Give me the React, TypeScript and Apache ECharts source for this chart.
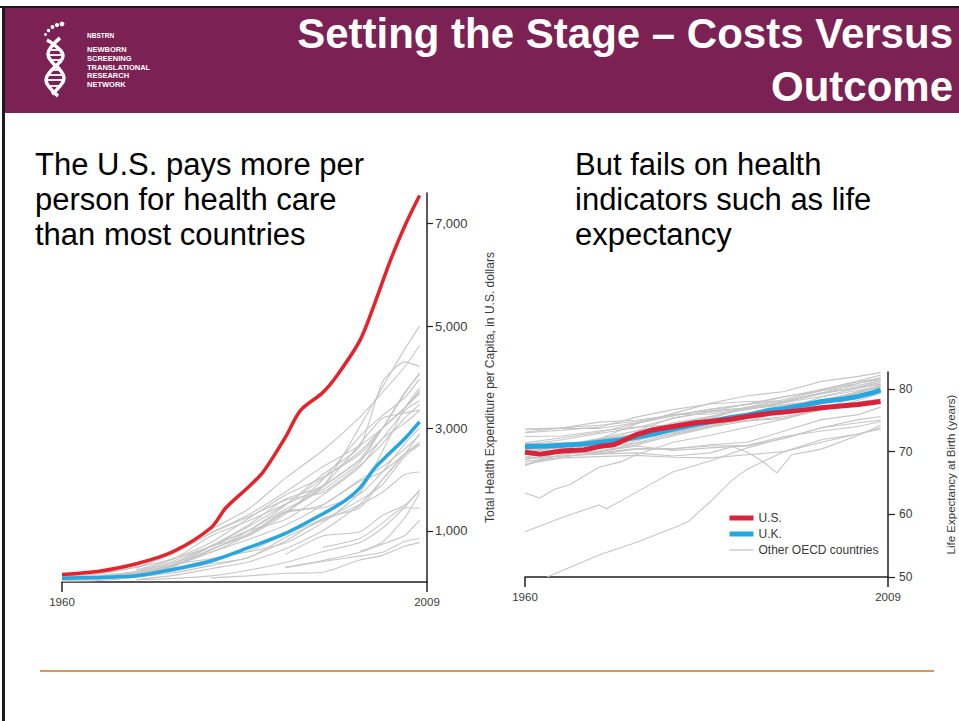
import React, { useEffect, useRef } from "react";
import * as echarts from "echarts";

// ---------- Data: health expenditure per capita (US$) ----------
const EXP_YEARS = [1960, 1965, 1970, 1975, 1980, 1985, 1990, 1995, 2000, 2003, 2006, 2008];

const US_EXP: [number, number][] = [
  [1960, 147], [1965, 211], [1970, 356], [1975, 600], [1980, 1060], [1982, 1450],
  [1985, 1850], [1987, 2150], [1990, 2830], [1992, 3350], [1995, 3700], [1997, 4050],
  [2000, 4720], [2002, 5450], [2004, 6250], [2006, 6950], [2008, 7550],
];

const UK_EXP: [number, number][] = [
  [1960, 75], [1965, 90], [1970, 120], [1975, 250], [1980, 410], [1985, 670],
  [1990, 950], [1995, 1330], [1998, 1590], [2000, 1840], [2002, 2230], [2004, 2520],
  [2006, 2800], [2008, 3130],
];

const OTHER_EXP: (number | null)[][] = [
  [50, 80, 130, 300, 630, 950, 1370, 1860, 3040, 3800, 4550, 5000],
  [130, 200, 350, 590, 1030, 1420, 2030, 2570, 3220, 3700, 4200, 4620],
  [null, null, 150, 330, 620, 1000, 1500, 2100, 2650, 3900, 4300, 4210],
  [70, 110, 200, 410, 710, 1000, 1420, 1800, 2340, 3000, 3700, 4060],
  [110, 170, 290, 460, 770, 1240, 1700, 2040, 2500, 3000, 3680, 4080],
  [65, 95, 160, 350, 690, 900, 1330, 2000, 2850, 3250, 3600, 3970],
  [40, 60, 100, 230, 450, 590, 760, 1160, 1750, 2550, 3400, 3790],
  [null, null, 270, 560, 960, 1310, 1760, 2250, 2670, 3000, 3400, 3740],
  [75, 120, 200, 380, 700, 1080, 1520, 2020, 2550, 3000, 3400, 3700],
  [55, 85, 150, 320, 640, 920, 1360, 1870, 2400, 3000, 3400, 3680],
  [null, null, 240, 450, 900, 1190, 1520, 1860, 2380, 2800, 3350, 3540],
  [95, 160, 300, 560, 950, 1270, 1600, 1750, 2280, 2700, 3200, 3470],
  [50, 80, 150, 320, 700, 1110, 1620, 1880, 2700, 3200, 3300, 3360],
  [90, 130, 210, 460, 690, 1000, 1220, 1700, 2250, 2800, 3100, 3350],
  [55, 90, 160, 330, 580, 920, 1380, 1450, 1720, 2150, 2700, 3010],
  [15, 30, 95, 210, 360, 470, 870, 1200, 1520, 2000, 2500, 2900],
  [null, null, null, null, null, null, 1360, 1510, 2000, 2250, 2600, 2870],
  [25, 55, 150, 320, 580, 830, 1110, 1500, 1970, 2150, 2500, 2730],
  [90, 120, 180, 340, 460, 600, 940, 1220, 1600, 1900, 2450, 2680],
  [null, null, 100, 180, 320, 480, 800, 1240, 1450, 2000, 2500, 2690],
  [null, null, 50, 130, 260, 390, 650, 1000, 1500, 1750, 2100, 2150],
  [null, null, null, null, null, null, 540, 900, 980, 1300, 1500, 1780],
  [null, null, 40, 70, 120, 230, 380, 590, 770, 1050, 1460, 1800],
  [null, null, null, null, null, null, null, 680, 850, 1150, 1450, 1440],
  [null, null, null, null, null, null, 290, 420, 580, 740, 910, 1210],
  [null, null, null, null, null, null, null, null, 600, 780, 1250, 1740],
  [null, null, null, null, null, null, 280, 400, 510, 580, 790, 850],
  [null, null, null, null, 80, 120, 170, 190, 430, 520, 700, 770],
];

// ---------- Data: life expectancy at birth (years) ----------
const LE_YEARS = [1960, 1965, 1970, 1975, 1980, 1985, 1990, 1995, 2000, 2005, 2008];

const US_LE: [number, number][] = [
  [1960, 69.9], [1962, 69.6], [1965, 70.1], [1968, 70.3], [1970, 70.8], [1972, 71.1],
  [1975, 72.7], [1977, 73.4], [1980, 74.0], [1983, 74.6], [1985, 74.8], [1988, 75.2],
  [1990, 75.6], [1993, 76.1], [1995, 76.3], [1998, 76.7], [2000, 77.0], [2003, 77.3],
  [2005, 77.5], [2008, 78.0],
];

const UK_LE: [number, number][] = [
  [1960, 70.8], [1963, 70.9], [1965, 71.0], [1968, 71.2], [1970, 71.5], [1973, 71.9],
  [1975, 72.3], [1978, 73.0], [1980, 73.6], [1983, 74.3], [1985, 74.8], [1988, 75.5],
  [1990, 75.8], [1993, 76.6], [1995, 76.9], [1998, 77.5], [2000, 78.0], [2003, 78.4],
  [2005, 78.8], [2007, 79.4], [2008, 79.8],
];

const OTHER_LE: number[][] = [
  [67.8, 70.2, 72.0, 74.4, 76.1, 77.7, 78.9, 79.6, 81.2, 82.0, 82.6],
  [73.1, 73.8, 74.7, 75.0, 75.8, 76.7, 77.6, 78.8, 79.7, 80.6, 81.3],
  [73.6, 73.8, 74.2, 74.8, 75.9, 76.0, 76.7, 77.8, 78.8, 80.1, 80.8],
  [73.5, 73.7, 73.7, 74.6, 75.9, 76.5, 77.0, 77.5, 78.2, 79.4, 80.3],
  [73.0, 73.4, 73.9, 75.5, 76.7, 77.6, 78.0, 78.1, 79.7, 81.2, 81.6],
  [71.4, 72.2, 73.1, 74.5, 75.7, 76.8, 77.5, 78.7, 79.9, 81.3, 82.2],
  [72.4, 72.5, 73.3, 73.9, 74.3, 74.6, 74.9, 75.3, 76.9, 77.9, 78.4],
  [70.9, 71.0, 71.0, 72.9, 74.6, 75.6, 77.0, 77.9, 79.3, 80.9, 81.5],
  [71.1, 71.9, 72.9, 73.8, 75.3, 76.4, 77.6, 78.0, 79.3, 80.2, 80.7],
  [71.3, 71.4, 71.5, 72.4, 73.1, 74.1, 75.4, 76.7, 78.7, 79.8, 80.4],
  [70.3, 71.0, 71.8, 72.9, 74.3, 75.3, 77.0, 77.9, 79.2, 80.3, 81.0],
  [69.8, 70.9, 72.0, 72.7, 74.0, 75.5, 77.1, 78.3, 79.9, 80.9, 81.8],
  [69.1, 70.3, 70.6, 71.4, 72.9, 74.3, 75.3, 76.6, 78.0, 79.4, 80.2],
  [70.3, 70.7, 71.1, 72.1, 73.2, 74.5, 76.1, 76.8, 77.8, 79.1, 79.8],
  [68.7, 69.9, 70.1, 71.0, 72.7, 73.9, 75.8, 76.8, 78.2, 79.5, 80.5],
  [69.0, 69.3, 70.8, 71.7, 73.4, 74.4, 74.9, 76.3, 77.6, 78.9, 79.6],
  [69.8, 70.9, 71.2, 71.9, 72.9, 73.9, 74.9, 75.6, 76.6, 79.0, 79.9],
  [69.8, 70.8, 72.0, 73.3, 75.4, 76.3, 76.9, 77.9, 79.4, 80.3, 81.3],
  [69.9, 71.0, 72.1, 73.3, 74.4, 75.6, 76.8, 77.4, 78.0, 79.2, 79.8],
  [68.4, 69.1, 70.0, 71.3, 72.5, 73.9, 75.4, 76.7, 78.0, 79.6, 80.6],
  [70.6, 70.4, 69.6, 70.4, 70.4, 71.1, 71.5, 73.3, 75.1, 75.9, 77.1],
  [70.6, 70.6, 69.8, 70.5, 70.5, 70.9, 71.0, 72.4, 73.3, 74.0, 74.8],
  [67.8, 69.6, 70.0, 70.9, 70.2, 70.6, 70.9, 72.1, 73.8, 75.1, 75.6],
  [68.0, 69.0, 69.2, 69.4, 69.1, 69.0, 69.5, 70.0, 71.9, 72.8, 73.8],
];

const OTHER_LE_IRREGULAR: [number, number][][] = [
  [[1960, 63.4], [1962, 62.6], [1964, 64.0], [1966, 64.7], [1970, 67.5], [1973, 68.4],
   [1975, 69.5], [1980, 71.5], [1985, 72.6], [1990, 73.9], [1995, 75.2], [2000, 76.7],
   [2005, 78.2], [2008, 79.3]],
  [[1960, 57.2], [1965, 59.5], [1970, 61.5], [1971, 60.9], [1975, 63.5], [1980, 66.8],
   [1985, 68.5], [1990, 70.6], [1995, 72.2], [2000, 73.8], [2005, 74.6], [2008, 75.0]],
  [[1963, 50.0], [1970, 53.5], [1975, 55.5], [1980, 57.8], [1982, 58.8], [1985, 62.0],
   [1988, 65.5], [1990, 67.2], [1995, 70.0], [2000, 71.5], [2005, 72.8], [2008, 73.6]],
  [[1960, 68.8], [1965, 69.3], [1970, 69.6], [1975, 69.8], [1980, 69.3], [1985, 69.8],
   [1988, 70.8], [1990, 69.9], [1992, 68.5], [1994, 66.6], [1996, 69.5], [2000, 70.4],
   [2005, 72.6], [2008, 74.2]],
];

// ---------- Axis ticks / texts ----------
const YEAR_TICKS = [1960, 2009];
const EXP_TICKS = [1000, 3000, 5000, 7000];
const LE_TICKS = [50, 60, 70, 80];

const TITLE_LINES = ["Setting the Stage \u2013 Costs Versus", "Outcome"];
const LEFT_TEXT = ["The U.S. pays more per", "person for health care", "than most countries"];
const RIGHT_TEXT = ["But fails on health", "indicators such as life", "expectancy"];
const LOGO_TEXT = ["NEWBORN", "SCREENING", "TRANSLATIONAL", "RESEARCH", "NETWORK"];

const UI_FONT = '"Liberation Sans", Arial, Helvetica, sans-serif';

const RED = "#E4232B";
const RED2 = "#D8233A";
const BLUE = "#27A7E0";
const GRAY = "#C6C6C6";
const AXIS = "#231F20";
const LABEL = "#3A3A3A";
const CLEAR = "rgba(0,0,0,0)";

function buildOption(): any {
  const grayExp = OTHER_EXP.map((vals) => ({
    type: "line",
    name: "Other OECD countries",
    xAxisIndex: 0,
    yAxisIndex: 0,
    symbol: "none",
    silent: true,
    smooth: 0.2,
    data: EXP_YEARS.map((y, j) => [y, vals[j]]).filter((p) => p[1] !== null),
    itemStyle: { color: GRAY },
    lineStyle: { color: GRAY, width: 1.1 },
  }));
  const grayLe = OTHER_LE.map((vals) => ({
    type: "line",
    name: "Other OECD countries",
    xAxisIndex: 1,
    yAxisIndex: 1,
    symbol: "none",
    silent: true,
    data: LE_YEARS.map((y, j) => [y, vals[j]]),
    itemStyle: { color: GRAY },
    lineStyle: { color: GRAY, width: 1.1 },
  }));
  const grayLe2 = OTHER_LE_IRREGULAR.map((pts) => ({
    type: "line",
    name: "Other OECD countries",
    xAxisIndex: 1,
    yAxisIndex: 1,
    symbol: "none",
    silent: true,
    data: pts,
    itemStyle: { color: GRAY },
    lineStyle: { color: GRAY, width: 1.1 },
  }));

  const xAxisBase = (gridIndex: number) => ({
    type: "value",
    gridIndex,
    min: 1960,
    max: 2009,
    axisLine: { show: true, onZero: false, lineStyle: { color: AXIS, width: 1.5 } },
    axisTick: { show: true, customValues: YEAR_TICKS, length: 10, lineStyle: { color: AXIS, width: 1.5 } },
    axisLabel: {
      customValues: YEAR_TICKS,
      showMinLabel: true,
      showMaxLabel: true,
      margin: 14,
      fontFamily: UI_FONT,
      fontSize: 11.5,
      color: LABEL,
      formatter: (v: number) => String(v),
    },
    splitLine: { show: false },
  });

  const white = "#ffffff";
  const graphics: any[] = [
    { type: "rect", shape: { x: 0, y: 6, width: 959, height: 2 }, style: { fill: "#1b1b1b" } },
    { type: "rect", shape: { x: 2, y: 6, width: 3, height: 715 }, style: { fill: "#1b1b1b" } },
    { type: "rect", shape: { x: 5, y: 8, width: 954, height: 105 }, style: { fill: "#7B2153" } },
    // bottom orange rule
    { type: "line", shape: { x1: 40, y1: 671, x2: 934, y2: 671 }, style: { stroke: "#C8732E", lineWidth: 1.5 } },
    // logo toes
    { type: "circle", shape: { cx: 62, cy: 24, r: 2.4 }, style: { fill: white } },
    { type: "circle", shape: { cx: 57, cy: 25, r: 2.1 }, style: { fill: white } },
    { type: "circle", shape: { cx: 52.5, cy: 27, r: 1.9 }, style: { fill: white } },
    { type: "circle", shape: { cx: 48.5, cy: 30.5, r: 1.7 }, style: { fill: white } },
    { type: "circle", shape: { cx: 45.5, cy: 34.5, r: 1.5 }, style: { fill: white } },
    // logo helix
    {
      type: "polyline",
      shape: { points: [[47, 40], [58, 48], [63, 56], [58, 64], [50, 72], [46, 80], [50, 88], [58, 96]], smooth: 0.5 },
      style: { stroke: white, lineWidth: 3.5, fill: null },
    },
    {
      type: "polyline",
      shape: { points: [[60, 38], [52, 46], [48, 54], [52, 62], [60, 70], [64, 78], [60, 86], [52, 94]], smooth: 0.5 },
      style: { stroke: white, lineWidth: 3.5, fill: null },
    },
    { type: "line", shape: { x1: 51, y1: 50, x2: 61, y2: 50 }, style: { stroke: white, lineWidth: 1.8 } },
    { type: "line", shape: { x1: 49, y1: 55, x2: 63, y2: 55 }, style: { stroke: white, lineWidth: 1.8 } },
    { type: "line", shape: { x1: 51, y1: 60, x2: 61, y2: 60 }, style: { stroke: white, lineWidth: 1.8 } },
    { type: "line", shape: { x1: 51, y1: 70, x2: 60, y2: 70 }, style: { stroke: white, lineWidth: 1.8 } },
    { type: "line", shape: { x1: 48, y1: 75, x2: 63, y2: 75 }, style: { stroke: white, lineWidth: 1.8 } },
    { type: "line", shape: { x1: 47, y1: 80, x2: 64, y2: 80 }, style: { stroke: white, lineWidth: 1.8 } },
    { type: "line", shape: { x1: 49, y1: 86, x2: 61, y2: 86 }, style: { stroke: white, lineWidth: 1.8 } },
    { type: "line", shape: { x1: 52, y1: 92, x2: 56, y2: 92 }, style: { stroke: white, lineWidth: 1.8 } },
    {
      type: "text", x: 87, y: 35,
      style: { text: "NBSTRN", fill: white, font: `bold 6.5px ${UI_FONT}`, textAlign: "left", textVerticalAlign: "middle", align: "left", verticalAlign: "middle" },
    },
  ];

  const logoY = [49, 58, 67, 75, 84];
  LOGO_TEXT.forEach((t, i) => {
    graphics.push({
      type: "text", x: 87, y: logoY[i],
      style: { text: t, fill: white, font: `bold 7.5px ${UI_FONT}`, textAlign: "left", textVerticalAlign: "middle", align: "left", verticalAlign: "middle" },
    });
  });

  const titleY = [33, 86];
  TITLE_LINES.forEach((t, i) => {
    graphics.push({
      type: "text", x: 953, y: titleY[i],
      style: { text: t, fill: white, font: `bold 42px ${UI_FONT}`, textAlign: "right", textVerticalAlign: "middle", align: "right", verticalAlign: "middle" },
    });
  });

  const bodyY = [164.3, 199.3, 234.3];
  LEFT_TEXT.forEach((t, i) => {
    graphics.push({
      type: "text", x: 35, y: bodyY[i],
      style: { text: t, fill: "#000", font: `31px ${UI_FONT}`, textAlign: "left", textVerticalAlign: "middle", align: "left", verticalAlign: "middle" },
    });
  });
  RIGHT_TEXT.forEach((t, i) => {
    graphics.push({
      type: "text", x: 575, y: bodyY[i],
      style: { text: t, fill: "#000", font: `31px ${UI_FONT}`, textAlign: "left", textVerticalAlign: "middle", align: "left", verticalAlign: "middle" },
    });
  });

  return {
    animation: false,
    backgroundColor: "#ffffff",
    grid: [
      { left: 62, top: 193, width: 365, height: 389, outerBoundsMode: "none" },
      { left: 525, top: 372, width: 363, height: 205, outerBoundsMode: "none" },
    ],
    xAxis: [xAxisBase(0), xAxisBase(1)],
    yAxis: [
      {
        type: "value",
        gridIndex: 0,
        position: "right",
        min: 0,
        max: 7600,
        name: "Total Health Expenditure per Capita, in U.S. dollars",
        nameLocation: "middle",
        nameRotate: 90,
        nameGap: 57,
        nameTextStyle: { fontFamily: UI_FONT, fontSize: 12, color: LABEL },
        axisLine: { show: true, onZero: false, lineStyle: { color: AXIS, width: 1.5 } },
        axisTick: { show: true, customValues: EXP_TICKS, length: 6, lineStyle: { color: AXIS, width: 1.2 } },
        axisLabel: {
          customValues: EXP_TICKS,
          margin: 8,
          fontFamily: UI_FONT,
          fontSize: 13,
          color: LABEL,
          formatter: (v: number) => v.toLocaleString("en-US"),
        },
        splitLine: { show: false },
      },
      {
        type: "value",
        gridIndex: 1,
        position: "right",
        min: 50,
        max: 82.7,
        name: "Life Expectancy at Birth (years)",
        nameLocation: "middle",
        nameRotate: 90,
        nameGap: 57,
        nameTextStyle: { fontFamily: UI_FONT, fontSize: 11.5, color: LABEL },
        axisLine: { show: true, onZero: false, lineStyle: { color: AXIS, width: 1.5 } },
        axisTick: { show: true, customValues: LE_TICKS, length: 7, lineStyle: { color: AXIS, width: 1.2 } },
        axisLabel: {
          customValues: LE_TICKS,
          margin: 11,
          fontFamily: UI_FONT,
          fontSize: 12,
          color: LABEL,
          formatter: (v: number) => String(v),
        },
        splitLine: { show: false },
      },
    ],
    legend: {
      orient: "vertical",
      left: 722,
      top: 507,
      itemWidth: 24,
      itemHeight: 10,
      itemGap: 4,
      selectedMode: false,
      textStyle: { fontFamily: UI_FONT, fontSize: 12, color: LABEL },
      data: [
        { name: "U.S.", itemStyle: { color: CLEAR, opacity: 0 }, lineStyle: { color: RED2, width: 5 } },
        { name: "U.K.", itemStyle: { color: CLEAR, opacity: 0 }, lineStyle: { color: BLUE, width: 5 } },
        { name: "Other OECD countries", itemStyle: { color: CLEAR, opacity: 0 }, lineStyle: { color: GRAY, width: 1.3 } },
      ],
    },
    graphic: { elements: graphics },
    series: [
      ...grayExp,
      {
        type: "line", name: "U.K.", xAxisIndex: 0, yAxisIndex: 0, symbol: "none", silent: true, smooth: 0.3,
        data: UK_EXP, itemStyle: { color: BLUE }, lineStyle: { color: BLUE, width: 3.5 }, z: 4,
      },
      {
        type: "line", name: "U.S.", xAxisIndex: 0, yAxisIndex: 0, symbol: "none", silent: true, smooth: 0.3,
        data: US_EXP, itemStyle: { color: RED2 }, lineStyle: { color: RED, width: 3.5 }, z: 4,
      },
      ...grayLe,
      ...grayLe2,
      {
        type: "line", name: "U.K.", xAxisIndex: 1, yAxisIndex: 1, symbol: "none", silent: true,
        data: UK_LE, itemStyle: { color: BLUE }, lineStyle: { color: BLUE, width: 5 }, z: 4,
      },
      {
        type: "line", name: "U.S.", xAxisIndex: 1, yAxisIndex: 1, symbol: "none", silent: true,
        data: US_LE, itemStyle: { color: RED2 }, lineStyle: { color: RED2, width: 5 }, z: 5,
      },
    ],
  };
}

export default function App() {
  const ref = useRef<HTMLDivElement>(null);
  useEffect(() => {
    if (!ref.current) return;
    const chart = echarts.init(ref.current, null, { renderer: "svg" });
    chart.setOption(buildOption());
    return () => {
      chart.dispose();
    };
  }, []);
  return (
    <div
      ref={ref}
      style={{ position: "absolute", left: 0, top: 0, width: 959, height: 721, background: "#fff" }}
    />
  );
}
